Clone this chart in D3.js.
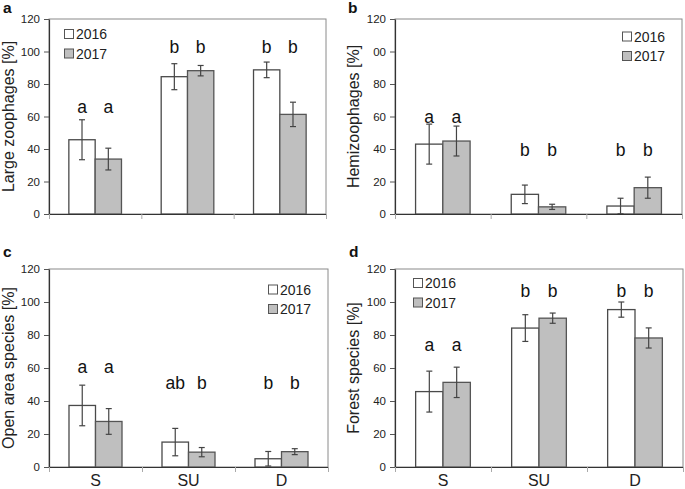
<!DOCTYPE html>
<html>
<head>
<meta charset="utf-8">
<script src="https://cdn.jsdelivr.net/npm/d3@7"></script>
<style>
  body { margin: 0; background: #fff; }
  svg { display: block; font-family: "Liberation Sans", Arial, sans-serif; }
</style>
</head>
<body>
<svg width="685" height="489"></svg>
<script>
'use strict';

// categories and series
var categories = ['S', 'SU', 'D'];
var years = ['2016', '2017'];
var yTicks = [0, 20, 40, 60, 80, 100, 120];
var tickLabels = ['0', '20', '40', '60', '80', '100', '120'];
var tickLabelsB = ['0', '20', '40', '60', '80', '00', '120'];

// a - large zoophages
var largeZoo2016 = [45.7, 84.5, 88.7];
var largeZoo2016Err = [12.3, 8.0, 4.8];
var largeZoo2017 = [33.8, 88.2, 61.3];
var largeZoo2017Err = [6.7, 3.2, 7.5];
var largeZooLetters = ['a', 'a', 'b', 'b', 'b', 'b'];

// b - hemizoophages
var hemi2016 = [43.0, 12.1, 4.9];
var hemi2016Err = [12.3, 5.7, 4.8];
var hemi2017 = [44.9, 4.4, 16.2];
var hemi2017Err = [9.2, 1.6, 6.5];
var hemiLetters = ['a', 'a', 'b', 'b', 'b', 'b'];

// c - open area species
var open2016 = [37.3, 15.1, 5.0];
var open2016Err = [12.3, 8.3, 4.4];
var open2017 = [27.6, 9.0, 9.3];
var open2017Err = [7.8, 2.8, 1.8];
var openLetters = ['a', 'a', 'ab', 'b', 'b', 'b'];

// d - forest species
var forest2016 = [45.7, 84.2, 95.4];
var forest2016Err = [12.4, 8.1, 4.6];
var forest2017 = [51.3, 90.2, 78.2];
var forest2017Err = [9.2, 3.1, 6.1];
var forestLetters = ['a', 'a', 'b', 'b', 'b', 'b'];

var fills = {'2016': '#ffffff', '2017': '#bfbfbf'};
var strokes = {'2016': '#4a4a4a', '2017': '#555555'};

// panel layout
var panels = [
  {tag: 'a', title: 'Large zoophages [%]', v16: largeZoo2016, e16: largeZoo2016Err,
   v17: largeZoo2017, e17: largeZoo2017Err, letters: largeZooLetters, labels: tickLabels,
   x0: 49, x1: 326, y0: 19, y1: 214, tagX: 3, tagY: 13, titleX: 14,
   letterY: [66, 66, 103, 103, 103, 103], legX: 64, legY: 34, cats: false},
  {tag: 'b', title: 'Hemizoophages [%]', v16: hemi2016, e16: hemi2016Err,
   v17: hemi2017, e17: hemi2017Err, letters: hemiLetters, labels: tickLabelsB,
   x0: 395, x1: 682, y0: 19, y1: 214, tagX: 348, tagY: 13, titleX: 359,
   letterY: [60, 60, 39.5, 39.5, 39.5, 39.5], legX: 622, legY: 36.5, cats: false},
  {tag: 'c', title: 'Open area species [%]', v16: open2016, e16: open2016Err,
   v17: open2017, e17: open2017Err, letters: openLetters, labels: tickLabels,
   x0: 49, x1: 328, y0: 269, y1: 467, tagX: 3, tagY: 257, titleX: 14,
   letterY: [61, 61, 51, 51, 51, 51], legX: 268, legY: 289.5, cats: true},
  {tag: 'd', title: 'Forest species [%]', v16: forest2016, e16: forest2016Err,
   v17: forest2017, e17: forest2017Err, letters: forestLetters, labels: tickLabels,
   x0: 395, x1: 683, y0: 269, y1: 467, tagX: 349, tagY: 257, titleX: 359,
   letterY: [74, 74, 107, 107, 107, 107], legX: 413, legY: 283, cats: true}
];

var svg = d3.select('svg');

panels.forEach(drawPanel);

function drawPanel(p) {
  var w = p.x1 - p.x0;
  var h = p.y1 - p.y0;
  var g = svg.append('g').attr('transform', 'translate(' + p.x0 + ',' + p.y0 + ')');

  var x = d3.scaleBand().domain(categories).range([0, w]);
  var xb = d3.scaleLinear().domain([0, categories.length]).range([0, w]);
  var bw = x.bandwidth();
  var xi = d3.scaleBand().domain(years).range([bw * 0.215, bw * 0.785]);
  var y = d3.scaleLinear().domain([0, 120]).range([h, 0]);

  // rows of data
  var rows = [];
  categories.forEach(function(c, i) {
    rows.push({cat: c, year: '2016', v: p.v16[i], e: p.e16[i], letter: p.letters[i * 2], ly: p.letterY[i * 2]});
    rows.push({cat: c, year: '2017', v: p.v17[i], e: p.e17[i], letter: p.letters[i * 2 + 1], ly: p.letterY[i * 2 + 1]});
  });

  // frame
  g.append('rect')
    .attr('x', 0).attr('y', 0).attr('width', w).attr('height', h)
    .attr('fill', 'none').attr('stroke', '#8a8a8a').attr('stroke-width', 1);

  // bars
  g.selectAll('.bar').data(rows).enter().append('rect')
    .attr('class', 'bar')
    .attr('x', function(d) { return x(d.cat) + xi(d.year); })
    .attr('y', function(d) { return y(d.v); })
    .attr('width', xi.bandwidth())
    .attr('height', function(d) { return h - y(d.v); })
    .attr('fill', function(d) { return fills[d.year]; })
    .attr('stroke', function(d) { return strokes[d.year]; })
    .attr('stroke-width', 1.3);

  // error bars
  var eb = g.selectAll('.err').data(rows).enter().append('g').attr('class', 'err')
    .attr('stroke', '#444').attr('stroke-width', 1.2);
  function cx(d) { return x(d.cat) + xi(d.year) + xi.bandwidth() / 2; }
  eb.append('line')
    .attr('x1', cx).attr('x2', cx)
    .attr('y1', function(d) { return y(d.v + d.e); })
    .attr('y2', function(d) { return y(Math.max(0, d.v - d.e)); });
  eb.append('line')
    .attr('x1', function(d) { return cx(d) - 3; }).attr('x2', function(d) { return cx(d) + 3; })
    .attr('y1', function(d) { return y(d.v + d.e); })
    .attr('y2', function(d) { return y(d.v + d.e); });
  eb.append('line')
    .attr('x1', function(d) { return cx(d) - 3; }).attr('x2', function(d) { return cx(d) + 3; })
    .attr('y1', function(d) { return y(Math.max(0, d.v - d.e)); })
    .attr('y2', function(d) { return y(Math.max(0, d.v - d.e)); });

  // significance letters
  g.selectAll('.letter').data(rows).enter().append('text')
    .attr('class', 'letter')
    .attr('x', cx)
    .attr('y', function(d) { return y(d.ly); })
    .attr('dy', '0.36em')
    .attr('text-anchor', 'middle')
    .attr('font-size', 17.5)
    .attr('fill', '#111')
    .text(function(d) { return d.letter; });

  // y axis
  var ya = g.append('g')
    .call(d3.axisLeft(y).tickValues(yTicks).tickSize(5).tickSizeOuter(0)
      .tickFormat(function(d, i) { return p.labels[i]; }));
  ya.select('.domain').attr('stroke', '#333').attr('stroke-width', 1.2);
  ya.selectAll('.tick line').attr('stroke', '#555');
  ya.selectAll('.tick text').attr('font-size', 11.5).attr('fill', '#222')
    .attr('font-family', '"Liberation Sans", Arial, sans-serif').attr('x', -9);

  // x axis
  var xa = g.append('g').attr('transform', 'translate(0,' + h + ')')
    .call(d3.axisBottom(xb).tickValues([0, 1, 2, 3]).tickSize(5).tickSizeOuter(0)
      .tickFormat(''));
  xa.select('.domain').attr('stroke', '#333').attr('stroke-width', 1.2);
  xa.selectAll('.tick line').attr('stroke', '#aaa');

  if (p.cats) {
    g.selectAll('.cat').data(categories).enter().append('text')
      .attr('x', function(c) { return x(c) + bw / 2; })
      .attr('y', h + 18.5)
      .attr('text-anchor', 'middle')
      .attr('font-size', 16)
      .attr('fill', '#222')
      .text(function(c) { return c; });
  }

  // y title
  svg.append('text')
    .attr('transform', 'translate(' + p.titleX + ',' + (p.y0 + h / 2) + ') rotate(-90)')
    .attr('text-anchor', 'middle')
    .attr('font-size', 16)
    .attr('fill', '#222')
    .text(p.title);

  // panel tag
  svg.append('text')
    .attr('x', p.tagX).attr('y', p.tagY)
    .attr('font-size', 15.5).attr('font-weight', 'bold')
    .attr('fill', '#111')
    .text(p.tag);

  // legend
  var leg = svg.append('g').attr('transform', 'translate(' + p.legX + ',' + p.legY + ')');
  years.forEach(function(yr, i) {
    var row = leg.append('g').attr('transform', 'translate(0,' + (i * 19.5) + ')');
    row.append('rect').attr('x', 0.5).attr('y', -4.5).attr('width', 9).attr('height', 9)
      .attr('fill', fills[yr]).attr('stroke', '#555').attr('stroke-width', 1);
    row.append('text').attr('x', 12).attr('y', 0).attr('dy', '0.36em')
      .attr('font-size', 14).attr('fill', '#222').text(yr);
  });
}
</script>
</body>
</html>
